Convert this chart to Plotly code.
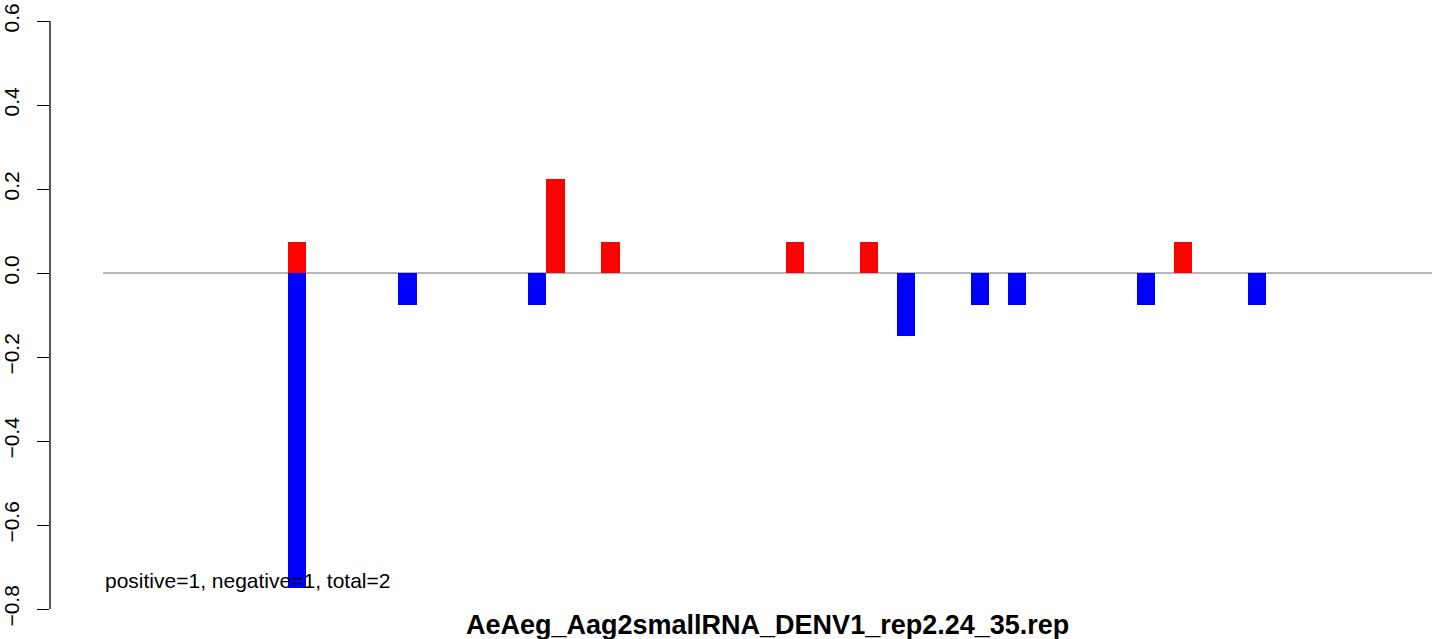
import plotly.graph_objects as go

# bar slot index (0..71), values
positions = [10, 16, 23, 24, 27, 37, 41, 43, 47, 49, 56, 58, 62]
plus_values = [0.075, 0, 0, 0.225, 0.075, 0.075, 0.075, 0, 0, 0, 0, 0.075, 0]
minus_values = [-0.75, -0.075, -0.075, 0, 0, 0, 0, -0.15, -0.075, -0.075, -0.075, 0, -0.075]
n_slots = 72
y_ticks = [-0.8, -0.6, -0.4, -0.2, 0.0, 0.2, 0.4, 0.6]
y_tick_text = ["\u22120.8", "\u22120.6", "\u22120.4", "\u22120.2", "0.0", "0.2", "0.4", "0.6"]
title_text = "AeAeg_Aag2smallRNA_DENV1_rep2.24_35.rep"
note_text = "positive=1, negative=1, total=2"

FONT = "Liberation Sans, Arial, Helvetica, sans-serif"
centers = [p + 0.5 for p in positions]

fig = go.Figure()
fig.add_trace(go.Bar(x=centers, y=plus_values, width=1, marker=dict(color="#FF0000", line=dict(width=0)),
                     showlegend=False, hoverinfo="skip"))
fig.add_trace(go.Bar(x=centers, y=minus_values, width=1, marker=dict(color="#0000FF", line=dict(width=0)),
                     showlegend=False, hoverinfo="skip"))

# zero line
fig.add_shape(type="line", xref="x", yref="y", x0=0, x1=n_slots, y0=0, y1=0,
              line=dict(color="#6e6e6e", width=1.2), layer="below")
# y axis line spanning first to last tick
fig.add_shape(type="line", xref="paper", yref="y", x0=0, x1=0, y0=y_ticks[0], y1=y_ticks[-1],
              line=dict(color="black", width=1.3))

fig.add_annotation(x=0, y=-0.733, xref="x", yref="y", text=note_text, showarrow=False,
                   xanchor="left", yanchor="middle", font=dict(family=FONT, size=21, color="black"))
fig.add_annotation(x=n_slots / 2, y=0, xref="x", yref="paper", text="<b>" + title_text + "</b>",
                   showarrow=False, xanchor="center", yanchor="middle", yshift=5, height=28,
                   font=dict(family=FONT, size=27, color="black"))

fig.update_layout(
    width=1444, height=639,
    margin=dict(l=50, r=4, t=0, b=9, autoexpand=False),
    plot_bgcolor="white", paper_bgcolor="white",
    barmode="overlay", bargap=0,
    xaxis=dict(range=[-2.871, 72.427], visible=False, showgrid=False, zeroline=False, automargin=False),
    yaxis=dict(range=[-0.85, 0.65], tickvals=y_ticks, ticktext=y_tick_text, tickangle=-90,
               ticks="outside", ticklen=12, tickwidth=1.3, tickcolor="black",
               showline=False, showgrid=False, zeroline=False, automargin=False,
               tickfont=dict(family=FONT, size=21, color="black"), ticklabelstandoff=10),
)

fig.write_html("out.html", config={"displayModeBar": False},
               post_script="document.body.style.margin='0';document.body.style.overflow='hidden';")
